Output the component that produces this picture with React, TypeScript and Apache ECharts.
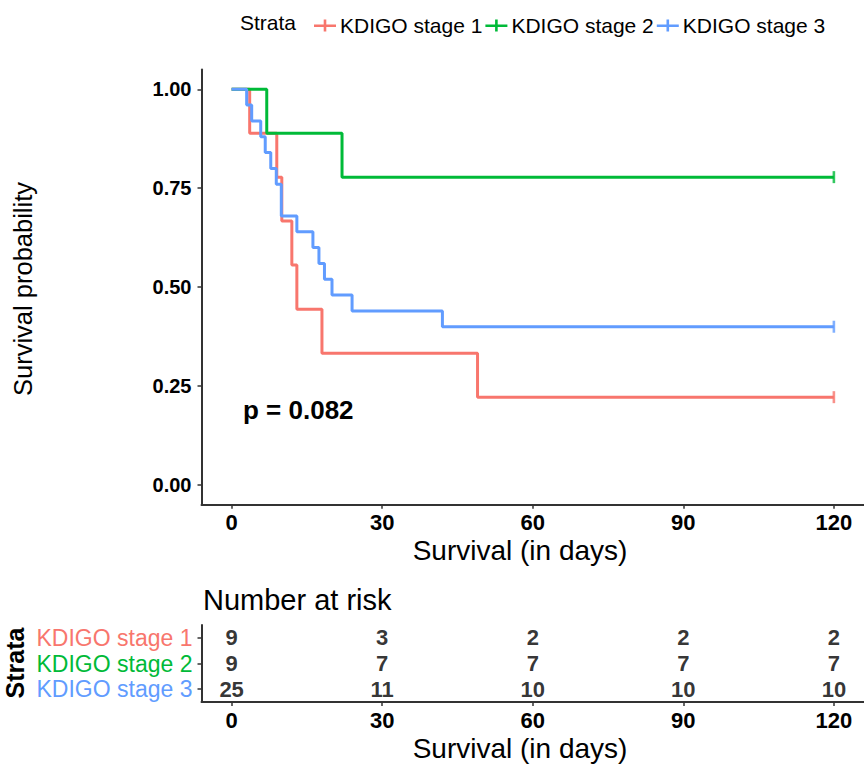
import React, { useEffect, useRef } from "react";
import * as echarts from "echarts";

const strataNames = ["KDIGO stage 1", "KDIGO stage 2", "KDIGO stage 3"];
const strataColors = ["#F8766D", "#00BA38", "#619CFF"];

const stage1Times = [0, 3.6, 9, 10, 12, 13, 18, 49, 120];
const stage1Surv = [1, 0.889, 0.778, 0.667, 0.556, 0.444, 0.333, 0.222, 0.222];
const stage2Times = [0, 7, 22, 120];
const stage2Surv = [1, 0.889, 0.778, 0.778];
const stage3Times = [0, 3, 4, 5.8, 6.7, 7.8, 8.9, 9.9, 13, 16.2, 17.4, 18.5, 20, 24, 42, 120];
const stage3Surv = [1, 0.96, 0.92, 0.88, 0.84, 0.8, 0.76, 0.68, 0.64, 0.6, 0.56, 0.52, 0.48, 0.44, 0.4, 0.4];

const censorTimes = [120, 120, 120];
const censorSurv = [0.222, 0.778, 0.4];

const riskTimes = [0, 30, 60, 90, 120];
const riskStage1 = [9, 3, 2, 2, 2];
const riskStage2 = [9, 7, 7, 7, 7];
const riskStage3 = [25, 11, 10, 10, 10];

const xTicks = [0, 30, 60, 90, 120];
const yTicks = [0, 0.25, 0.5, 0.75, 1];
const pValueText = "p = 0.082";

const FONT = "'Liberation Sans', Arial, Helvetica, sans-serif";
const AXIS_COLOR = "#333333";

export default function App() {
  const ref = useRef<HTMLDivElement>(null);

  useEffect(() => {
    document.body.style.margin = "0";
    if (!ref.current) return;
    const chart = echarts.init(ref.current, null, { renderer: "svg" });

    const times = [stage1Times, stage2Times, stage3Times];
    const survs = [stage1Surv, stage2Surv, stage3Surv];
    const risks = [riskStage1, riskStage2, riskStage3];

    const legendIcon = "path://M0,5h22v2.6h-22z M9.7,0h2.6v12h-2.6z";

    const lineSeries = strataNames.map((name, i) => ({
      name,
      type: "line",
      xAxisIndex: 0,
      yAxisIndex: 0,
      step: "end",
      showSymbol: false,
      symbol: "none",
      data: times[i].map((t, k) => [t, survs[i][k]]),
      lineStyle: { color: strataColors[i], width: 3 },
      itemStyle: { color: strataColors[i] },
      z: 3,
    }));

    const censorSeries = strataNames.map((name, i) => ({
      name: "censor-" + i,
      type: "scatter",
      xAxisIndex: 0,
      yAxisIndex: 0,
      symbol: "rect",
      symbolSize: [2.6, 12],
      data: [[censorTimes[i], censorSurv[i]]],
      itemStyle: { color: strataColors[i] },
      z: 4,
    }));

    const riskSeries = strataNames.map((name, i) => ({
      name: "risk-" + i,
      type: "scatter",
      xAxisIndex: 1,
      yAxisIndex: 1,
      symbolSize: 0,
      data: riskTimes.map((t, k) => [t, name, risks[i][k]]),
      label: {
        show: true,
        position: "inside",
        formatter: (p: any) => String(p.value[2]),
        color: "#000",
        fontFamily: FONT,
        fontWeight: "bold",
        fontSize: 22,
      },
    }));

    const rich: Record<string, any> = {};
    strataNames.forEach((_, i) => {
      rich["s" + i] = { color: strataColors[i], fontSize: 23, fontFamily: FONT };
    });

    const xAxisCommon = {
      type: "value",
      min: -6,
      max: 126,
      splitLine: { show: false },
      axisLine: { show: true, onZero: false, lineStyle: { color: AXIS_COLOR, width: 2 } },
      axisTick: { show: true, length: 4, lineStyle: { color: AXIS_COLOR, width: 1.5 }, customValues: xTicks },
      axisLabel: {
        customValues: xTicks,
        color: "#000",
        fontFamily: FONT,
        fontWeight: "bold",
        fontSize: 22,
        margin: 7,
      },
    };

    chart.setOption({
      animation: false,
      backgroundColor: "#ffffff",
      textStyle: { fontFamily: FONT },
      legend: {
        data: strataNames.map((n) => ({ name: n, icon: legendIcon })),
        left: 309,
        top: 10,
        itemWidth: 22,
        itemHeight: 12,
        itemGap: 3,
        textStyle: { fontSize: 21, color: "#000", fontFamily: FONT, padding: [0, 0, 0, -1] },
        selectedMode: false,
      },
      grid: [
        { left: 201.5, top: 69.5, width: 666, height: 435.3, containLabel: false },
        { left: 201.5, top: 625, width: 666, height: 77, containLabel: false },
      ],
      xAxis: [
        { ...xAxisCommon, gridIndex: 0 },
        { ...xAxisCommon, gridIndex: 1 },
      ],
      yAxis: [
        {
          type: "value",
          gridIndex: 0,
          min: -0.05,
          max: 1.05,
          splitLine: { show: false },
          axisLine: { show: true, onZero: false, lineStyle: { color: AXIS_COLOR, width: 2 } },
          axisTick: { show: true, length: 4, lineStyle: { color: AXIS_COLOR, width: 1.5 }, customValues: yTicks },
          axisLabel: {
            customValues: yTicks,
            formatter: (v: number) => v.toFixed(2),
            color: "#000",
            fontFamily: FONT,
            fontWeight: "bold",
            fontSize: 20,
            margin: 10,
          },
        },
        {
          type: "category",
          gridIndex: 1,
          inverse: true,
          data: strataNames,
          boundaryGap: true,
          splitLine: { show: false },
          axisLine: { show: true, onZero: false, lineStyle: { color: AXIS_COLOR, width: 2 } },
          axisTick: { show: true, length: 4, alignWithLabel: true, lineStyle: { color: AXIS_COLOR, width: 1.5 } },
          axisLabel: {
            margin: 9,
            formatter: (v: string) => "{s" + strataNames.indexOf(v) + "|" + v + "}",
            rich,
          },
        },
      ],
      graphic: [
        {
          type: "text",
          x: 240,
          y: 22,
          style: { text: "Strata", fontSize: 21, fontFamily: FONT, fill: "#000", align: "left", verticalAlign: "middle" },
        },
        {
          type: "text",
          x: 23,
          y: 289,
          rotation: Math.PI / 2,
          style: {
            text: "Survival probability",
            fontSize: 25.5,
            fontFamily: FONT,
            fill: "#000",
            align: "center",
            verticalAlign: "middle",
          },
        },
        {
          type: "text",
          x: 520,
          y: 550,
          style: {
            text: "Survival (in days)",
            fontSize: 28,
            fontFamily: FONT,
            fill: "#000",
            align: "center",
            verticalAlign: "middle",
          },
        },
        {
          type: "text",
          x: 243,
          y: 410,
          style: {
            text: pValueText,
            fontSize: 26,
            fontWeight: "bold",
            fontFamily: FONT,
            fill: "#000",
            align: "left",
            verticalAlign: "middle",
          },
        },
        {
          type: "text",
          x: 203,
          y: 600,
          style: {
            text: "Number at risk",
            fontSize: 29,
            fontFamily: FONT,
            fill: "#000",
            align: "left",
            verticalAlign: "middle",
          },
        },
        {
          type: "text",
          x: 15,
          y: 663,
          rotation: Math.PI / 2,
          style: {
            text: "Strata",
            fontSize: 25,
            fontWeight: "bold",
            fontFamily: FONT,
            fill: "#000",
            align: "center",
            verticalAlign: "middle",
          },
        },
        {
          type: "text",
          x: 520,
          y: 748,
          style: {
            text: "Survival (in days)",
            fontSize: 28,
            fontFamily: FONT,
            fill: "#000",
            align: "center",
            verticalAlign: "middle",
          },
        },
      ],
      series: [...lineSeries, ...censorSeries, ...riskSeries],
    });

    return () => chart.dispose();
  }, []);

  return <div ref={ref} style={{ width: 864, height: 766 }} />;
}
